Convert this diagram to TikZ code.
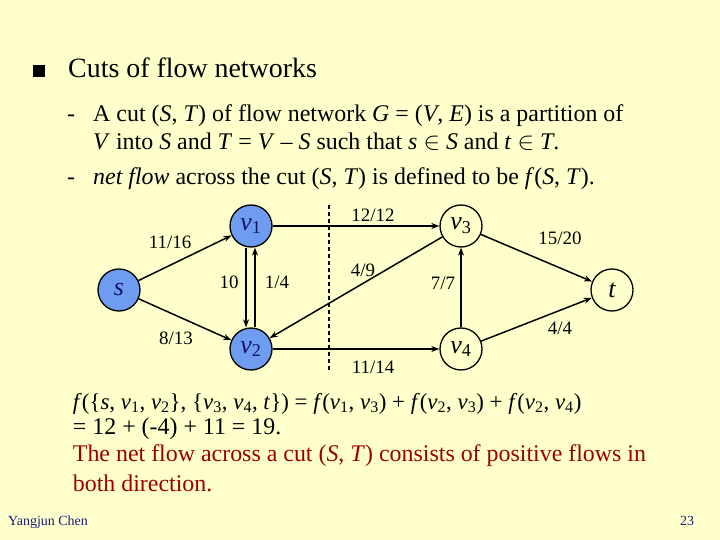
\documentclass[tikz,border=0pt]{standalone}
\usepackage{fontspec}
\setmainfont{Liberation Serif}
\usetikzlibrary{arrows.meta}
\definecolor{paper}{HTML}{FFFFCC}
\definecolor{cornflower}{HTML}{6E9CF0}
\definecolor{navyink}{HTML}{141466}
\definecolor{darkred}{HTML}{990000}
\definecolor{footblue}{HTML}{1A1A80}
\newcommand{\vsub}[1]{\textit{v}\textsubscript{#1}}
\tikzset{
heading/.style={font=\fontsize{28}{30}\selectfont,anchor=base west,inner sep=0pt},
body/.style={font=\fontsize{24}{26}\selectfont,anchor=base west,inner sep=0pt},
remark/.style={body,text=darkred},
footer/.style={font=\fontsize{14}{15}\selectfont,text=footblue,anchor=base west,inner sep=0pt},
vertex/.style={circle,draw=black,line width=1.3bp,minimum size=42bp,inner sep=0pt,font=\fontsize{26}{28}\selectfont\itshape},
sourceside/.style={vertex,fill=cornflower,text=navyink},
flow/.style={-{Stealth[length=8bp,width=6bp]},line width=1.5bp,draw=black},
cutline/.style={dashed,dash pattern=on 4bp off 3bp,line width=1.2bp},
capacity/.style={font=\fontsize{19}{22}\selectfont,inner sep=0pt}}
\begin{document}
\begin{tikzpicture}[x=1bp,y=-1bp]
\fill[paper] (0,0) rectangle (720,540);
\useasboundingbox (0,0) rectangle (720,540);
% heading and definitions
\node[fill=black,minimum size=12.5bp,inner sep=0pt] (bullet) at (38.9,71) {};
\node[heading] (title) at (68,78) {Cuts of flow networks};
\node[body] (dash1) at (67,122) {-};
\node[body] (def1) at (93,122) {A cut (\textit{S}, \textit{T}) of flow network \textit{G} = (\textit{V}, \textit{E}) is a partition of};
\node[body] (def2) at (93,150) {\textit{V} into \textit{S} and \textit{T} = \textit{V} – \textit{S} such that \textit{s} $\in$ \textit{S} and \textit{t} $\in$ \textit{T}.};
\node[body] (dash2) at (67,185) {-};
\node[body] (def3) at (93,185) {\textit{net flow} across the cut (\textit{S}, \textit{T}) is defined to be \textit{f}(\textit{S}, \textit{T}).};
% network
\node[sourceside] (s) at (119,290) {s};
\node[sourceside] (v1) at (251,226) {v\textsubscript{\upshape 1}};
\node[sourceside] (v2) at (251,349) {v\textsubscript{\upshape 2}};
\node[vertex] (v3) at (461,226) {v\textsubscript{\upshape 3}};
\node[vertex] (v4) at (461,349) {v\textsubscript{\upshape 4}};
\node[vertex] (t) at (612,290) {t};
\coordinate (cuttop) at (329,205);
\coordinate (cutbottom) at (329,370);
\draw[cutline] (cuttop)--(cutbottom);
\draw[flow] (s)--(v1);
\draw[flow] (s)--(v2);
\draw[flow] ([xshift=-5bp]v1.south)--([xshift=-5bp]v2.north);
\draw[flow] ([xshift=4bp]v2.north)--([xshift=4bp]v1.south);
\draw[flow] (v1)--(v3);
\draw[flow] (v3)--(v2);
\draw[flow] (v2)--(v4);
\draw[flow] (v4)--(v3);
\draw[flow] (v3)--(t);
\draw[flow] (v4)--(t);
\node[capacity] (c11) at (170,242) {11/16};
\node[capacity] (c8) at (176,338) {8/13};
\node[capacity] (c10) at (229,282) {10};
\node[capacity] (c1) at (277,282) {1/4};
\node[capacity] (c12) at (373,215) {12/12};
\node[capacity] (c4) at (363,270) {4/9};
\node[capacity] (c14) at (373,367) {11/14};
\node[capacity] (c15) at (560,238) {15/20};
\node[capacity] (c7) at (443,283) {7/7};
\node[capacity] (c44) at (560,328) {4/4};
% net flow of the cut
\node[body,font=\fontsize{23}{25}\selectfont] (sum1) at (72.7,409) {\textit{f}(\{\textit{s}, \vsub{1}, \vsub{2}\}, \{\vsub{3}, \vsub{4}, \textit{t}\}) = \textit{f}(\vsub{1}, \vsub{3}) + \textit{f}(\vsub{2}, \vsub{3}) + \textit{f}(\vsub{2}, \vsub{4})};
\node[body] (sum2) at (72.7,434) {= 12 + (-4) + 11 = 19.};
\node[remark] (note1) at (72.7,461.7) {The net flow across a cut (\textit{S}, \textit{T}) consists of positive flows in};
\node[remark] (note2) at (72.7,491) {both direction.};
\node[footer] (author) at (8,525) {Yangjun Chen};
\node[footer] (page) at (680,525) {23};
\end{tikzpicture}
\end{document}
